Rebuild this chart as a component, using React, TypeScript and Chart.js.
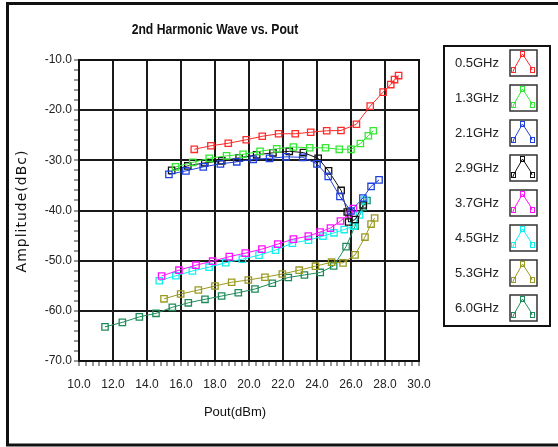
import React, { useEffect, useRef } from "react";
import { Chart, registerables } from "chart.js";
Chart.register(...registerables);

const seriesNames = ["0.5GHz", "1.3GHz", "2.1GHz", "2.9GHz", "3.7GHz", "4.5GHz", "5.3GHz", "6.0GHz"];
const seriesColors = ["#ff2a2a", "#33e833", "#2040e0", "#111111", "#ff10ff", "#10f0f0", "#9a9a20", "#1e8c5a"];

const x05 = [16.78, 17.76, 18.78, 19.84, 20.78, 21.74, 22.72, 23.63, 24.57, 25.41, 26.32, 27.13, 27.89, 28.34, 28.56, 28.8];
const y05 = [-27.8, -27.1, -26.6, -25.9, -25.2, -24.7, -24.7, -24.4, -24.1, -24.05, -22.8, -19.2, -16.4, -14.9, -13.9, -13.1];

const x13 = [15.68, 16.69, 17.66, 18.68, 19.65, 20.65, 21.63, 22.61, 23.57, 24.5, 25.31, 26.0, 26.55, 27.02, 27.31];
const y13 = [-31.3, -30.4, -29.6, -29.1, -28.8, -28.2, -27.7, -27.35, -27.5, -27.5, -27.8, -27.8, -26.65, -25.1, -24.1];

const x21 = [15.29, 16.29, 17.31, 18.32, 19.28, 20.25, 21.21, 22.18, 23.16, 24.0, 24.66, 25.35, 26.0, 26.7, 27.18, 27.65];
const y21 = [-32.8, -32.1, -31.3, -30.7, -30.3, -29.8, -29.6, -29.3, -29.4, -30.7, -33.2, -37.2, -40.1, -37.5, -35.2, -33.9];

const x29 = [15.45, 16.4, 17.4, 18.4, 19.42, 20.45, 21.41, 22.37, 23.2, 24.07, 24.68, 25.42, 25.78, 25.86, 26.25, 26.72];
const y29 = [-32.0, -31.1, -30.5, -30.1, -29.5, -28.9, -28.5, -28.2, -28.45, -29.6, -32.1, -36.0, -40.3, -42.3, -41.8, -38.9];

const x37 = [14.86, 15.88, 16.88, 17.86, 18.84, 19.78, 20.76, 21.69, 22.61, 23.49, 24.18, 24.79, 25.38, 25.88, 26.14];
const y37 = [-53.05, -51.9, -50.9, -50.1, -49.2, -48.5, -47.7, -46.7, -45.7, -45.1, -44.3, -43.5, -42.1, -40.7, -39.6];

const x45 = [14.72, 15.7, 16.67, 17.65, 18.63, 19.61, 20.59, 21.56, 22.55, 23.5, 24.35, 25.0, 25.6, 26.15, 26.5, 26.8];
const y45 = [-54.0, -53.0, -52.05, -51.3, -50.4, -49.7, -48.9, -47.9, -46.5, -45.9, -45.1, -44.45, -43.8, -43.1, -40.9, -37.9];

const x53 = [15.0, 15.98, 17.02, 18.0, 18.98, 19.96, 20.94, 21.96, 22.95, 23.91, 24.86, 25.53, 26.24, 26.82, 27.18, 27.39];
const y53 = [-57.6, -56.65, -55.85, -55.05, -54.3, -53.85, -53.3, -52.65, -51.9, -51.1, -50.3, -50.45, -48.85, -45.3, -42.7, -41.5];

const x60 = [11.53, 12.55, 13.55, 14.53, 15.49, 16.43, 17.41, 18.39, 19.37, 20.35, 21.37, 22.31, 23.26, 24.19, 24.98, 25.71, 26.24, 26.72, 26.94];
const y60 = [-63.2, -62.3, -61.2, -60.5, -59.3, -58.4, -57.7, -57.05, -56.4, -55.65, -54.5, -53.35, -52.85, -52.35, -51.05, -47.2, -43.1, -39.3, -38.0];

const xSeries = [x05, x13, x21, x29, x37, x45, x53, x60];
const ySeries = [y05, y13, y21, y29, y37, y45, y53, y60];

const chartTitle = "2nd Harmonic Wave vs. Pout";
const xTitle = "Pout(dBm)";
const yTitle = "Amplitude(dBc)";

const customDraw = {
  id: "customDraw",
  beforeDraw(chart: any) {
    const ctx = chart.ctx;
    ctx.save();
    ctx.fillStyle = "#ffffff";
    ctx.fillRect(0, 0, chart.width, chart.height);
    ctx.restore();
  },
  afterDraw(chart: any) {
    const ctx = chart.ctx;
    const a = chart.chartArea;
    ctx.save();
    // plot border
    ctx.strokeStyle = "#111";
    ctx.lineWidth = 2;
    ctx.strokeRect(a.left, a.top, a.right - a.left, a.bottom - a.top);
    // outer frame
    ctx.lineWidth = 3;
    ctx.strokeStyle = "#111";
    ctx.strokeRect(7.5, 3.5, 620, 441.5);
    // title (slightly condensed)
    ctx.fillStyle = "#111";
    ctx.textAlign = "center";
    ctx.textBaseline = "middle";
    ctx.save();
    ctx.translate(215, 30);
    ctx.scale(0.84, 1);
    ctx.font = "bold 14.5px 'Liberation Sans', sans-serif";
    ctx.fillText(chartTitle, 0, 0);
    ctx.restore();
    // x title
    ctx.font = "13px 'Liberation Sans', sans-serif";
    ctx.fillText(xTitle, 235, 412);
    // y title
    ctx.save();
    ctx.translate(22, 211);
    ctx.rotate(-Math.PI / 2);
    ctx.font = "14px 'DejaVu Sans', sans-serif";
    try { (ctx as any).letterSpacing = "1px"; } catch (e) {}
    ctx.fillText(yTitle, 0, 0);
    try { (ctx as any).letterSpacing = "0px"; } catch (e) {}
    ctx.restore();
    // legend
    ctx.lineWidth = 2;
    ctx.strokeStyle = "#111";
    ctx.strokeRect(444, 46, 106, 280);
    for (let i = 0; i < seriesNames.length; i++) {
      const cy = 63 + 35 * i;
      ctx.fillStyle = "#222";
      ctx.font = "13px 'Liberation Sans', sans-serif";
      ctx.textAlign = "right";
      ctx.textBaseline = "middle";
      ctx.fillText(seriesNames[i], 499, cy);
      ctx.lineWidth = 1.5;
      ctx.strokeStyle = "#333";
      ctx.strokeRect(510, cy - 13, 27, 26);
      const c = seriesColors[i];
      ctx.strokeStyle = c;
      ctx.lineWidth = 1;
      ctx.beginPath();
      ctx.moveTo(512.5, cy + 10);
      ctx.lineTo(514, cy + 6);
      ctx.lineTo(522.5, cy - 9);
      ctx.lineTo(531, cy + 4);
      ctx.lineTo(532, cy + 7);
      ctx.stroke();
      const pts = [[513.5, cy + 7], [522.5, cy - 9], [532.5, cy + 7]];
      for (const p of pts) {
        ctx.strokeRect(p[0] - 2, p[1] - 2.5, 4, 5);
      }
    }
    ctx.restore();
  },
};

export default function App() {
  const ref = useRef<HTMLCanvasElement | null>(null);
  useEffect(() => {
    if (!ref.current) return;
    const datasets = seriesNames.map((name, i) => ({
      label: name,
      data: xSeries[i].map((x, j) => ({ x, y: ySeries[i][j] })),
      borderColor: seriesColors[i],
      backgroundColor: "rgba(255,255,255,0)",
      borderWidth: 1,
      pointStyle: "rect" as const,
      pointRadius: 4.5,
      pointBorderWidth: 1.3,
      pointBackgroundColor: "rgba(255,255,255,0)",
      pointBorderColor: seriesColors[i],
      showLine: true,
      tension: 0,
    }));
    const chart = new Chart(ref.current, {
      type: "scatter",
      data: { datasets },
      options: {
        responsive: false,
        animation: false,
        devicePixelRatio: 1,
        layout: { padding: { left: 0, top: 60, right: 139, bottom: 0 } },
        plugins: { legend: { display: false }, title: { display: false }, tooltip: { enabled: false } },
        scales: {
          x: {
            type: "linear",
            min: 10,
            max: 30,
            afterFit: (s: any) => { s.height = 86; },
            ticks: {
              stepSize: 0.4,
              autoSkip: false,
              maxRotation: 0,
              padding: 11,
              color: "#222",
              font: { family: "'Liberation Sans', sans-serif", size: 12 },
              callback: (v: any) => {
                const n = Number(v);
                return Math.abs(n / 2 - Math.round(n / 2)) < 1e-6 ? n.toFixed(1) : "";
              },
            },
            grid: {
              color: (c: any) => {
                const n = c.tick ? c.tick.value : 0;
                return Math.abs(n / 2 - Math.round(n / 2)) < 1e-6 ? "#1a1a1a" : "rgba(0,0,0,0)";
              },
              lineWidth: 2,
              tickColor: "#333",
              tickLength: 5,
              tickWidth: 1,
            },
            border: { display: true, color: "#111", width: 2 },
          },
          y: {
            type: "linear",
            min: -70,
            max: -10,
            afterFit: (s: any) => { s.width = 79; },
            ticks: {
              stepSize: 2,
              autoSkip: false,
              padding: 2,
              color: "#222",
              font: { family: "'Liberation Sans', sans-serif", size: 12 },
              callback: (v: any) => {
                const n = Number(v);
                return Math.abs(n / 10 - Math.round(n / 10)) < 1e-6 ? n.toFixed(1) : "";
              },
            },
            grid: {
              color: (c: any) => {
                const n = c.tick ? c.tick.value : 0;
                return Math.abs(n / 10 - Math.round(n / 10)) < 1e-6 ? "#1a1a1a" : "rgba(0,0,0,0)";
              },
              lineWidth: 2,
              tickColor: "#333",
              tickLength: 5,
              tickWidth: 1,
            },
            border: { display: true, color: "#111", width: 2 },
          },
        },
      },
      plugins: [customDraw],
    });
    return () => chart.destroy();
  }, []);
  return (
    <div style={{ position: "absolute", left: 0, top: 0, width: 558, height: 447, background: "#fff" }}>
      <canvas ref={ref} width={558} height={447} style={{ display: "block" }} />
    </div>
  );
}
